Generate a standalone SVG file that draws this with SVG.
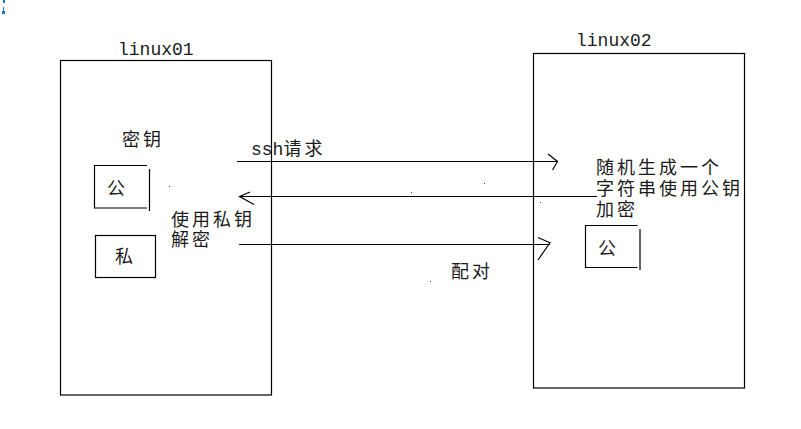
<svg xmlns="http://www.w3.org/2000/svg" width="801" height="429" viewBox="0 0 801 429">
<style>
.box{fill:none;stroke:#000;stroke-width:1.2}
.ln{fill:none;stroke:#000;stroke-width:1.2}
.mono{font-family:"Liberation Mono","DejaVu Sans Mono",monospace;font-size:18px;fill:#1a1a1a}
.cjk{font-family:"Noto Sans CJK SC","Noto Sans CJK JP",sans-serif;font-size:18px;letter-spacing:3px;fill:#1a1a1a}
.dot{fill:#444}
.mark{fill:#1a73c9}
</style>
<rect width="801" height="429" fill="#fff"/>
<g id="cursor">
<rect class="mark" x="3" y="0" width="2" height="3"/>
<rect class="mark" x="3" y="7" width="1" height="5"/>
<rect class="mark" x="2" y="11" width="3" height="3"/>
</g>
<g id="linux01">
<rect class="box" x="60.5" y="60.5" width="211" height="334.5"/>
<text class="mono" x="118" y="55">linux01</text>
<text class="cjk" x="122" y="146">密钥</text>
<text class="cjk" x="171" y="226">使用私钥<tspan x="171" dy="20">解密</tspan></text>
</g>
<g id="pub-left">
<path class="ln" d="M147 165.5H94.5V208H147M149.5 169V211"/>
<text class="cjk" x="107" y="195">公</text>
</g>
<g id="priv-left">
<rect class="box" x="95.5" y="235.5" width="60" height="42"/>
<text class="cjk" x="115" y="263">私</text>
</g>
<g id="linux02">
<rect class="box" x="533.5" y="53.5" width="211" height="334.5"/>
<text class="mono" x="576" y="46">linux02</text>
<text class="cjk" x="596" y="174">随机生成一个<tspan x="596" dy="21">字符串使用公钥</tspan><tspan x="596" dy="21">加密</tspan></text>
</g>
<g id="pub-right">
<path class="ln" d="M637.5 225.5H585.5V267.5H637.5M640 229V270"/>
<text class="cjk" x="598" y="255">公</text>
</g>
<g id="connectors">
<path class="ln" d="M237 161.5H557M548 154L557.5 161.5L552.5 170"/>
<path class="ln" d="M597 196.5H240M250 192L239.5 196.5L254 204.5"/>
<path class="ln" d="M239 244.5H550M538 237.5L550.5 243M550.5 242L538 260"/>
<text x="251" y="155"><tspan class="mono">ssh</tspan><tspan class="cjk">请求</tspan></text>
<text class="cjk" x="451" y="278">配对</text>
</g>
<g id="specks">
<rect class="dot" x="169" y="186" width="1" height="1"/>
<rect class="dot" x="411" y="192" width="1" height="1"/>
<rect class="dot" x="484" y="183" width="1" height="1"/>
<rect class="dot" x="540" y="202" width="1" height="1"/>
<rect class="dot" x="430" y="281" width="1" height="1"/>
</g>
</svg>
